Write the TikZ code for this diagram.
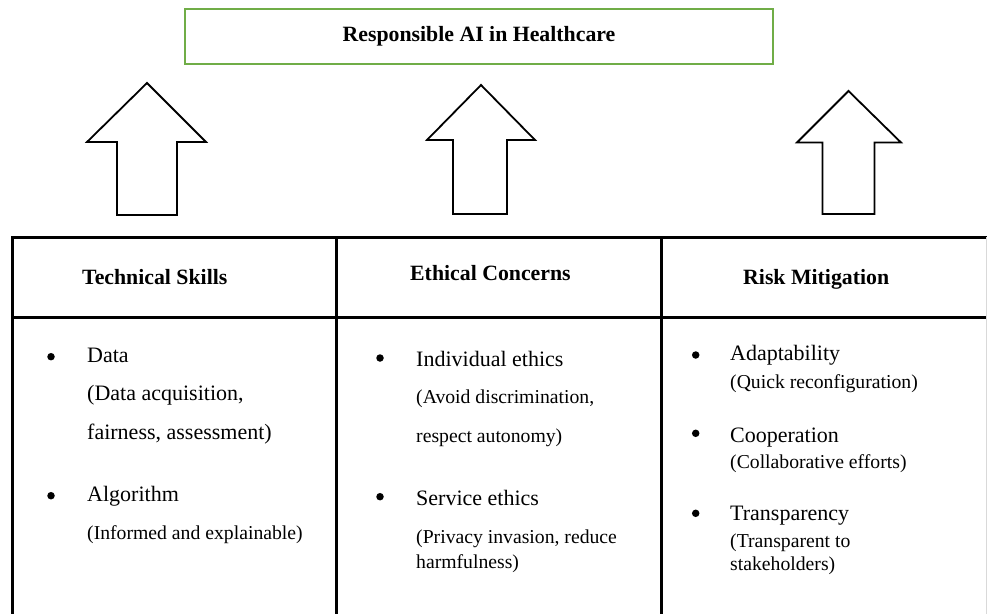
\documentclass[tikz,border=0pt]{standalone}
\usepackage{fontspec}
\setmainfont{Liberation Serif}
\definecolor{titlegreen}{RGB}{112,173,71}

\begin{document}
\begin{tikzpicture}[x=1pt, y=-1pt,
		head/.style = {font=\fontsize{21.8}{26}\selectfont\bfseries, anchor=base west, inner sep=0},
		item/.style = {font=\fontsize{22}{26}\selectfont, anchor=base west, inner sep=0},
		sub/.style = {font=\fontsize{19.7}{24}\selectfont, anchor=base west, inner sep=0},
		dot/.style = {circle, fill, inner sep=0, minimum size=7.5},
		grid/.style = {line width=2.6},
		blockarrow/.style = {line width=1.8, line join=miter}]
		\useasboundingbox (0,0) rectangle (987,613);

		% title
		\node[draw=titlegreen, line width=2, minimum width=588, minimum height=55, inner sep=0,
			font=\fontsize{21.8}{26}\selectfont\bfseries] (title) at (479,36.5) {Responsible AI in Healthcare};

		% arrows
		\draw[blockarrow] (117,215) -- (117,142) -- (87,142) -- (147,83) -- (206,142) -- (177,142) -- (177,215) -- cycle;
		\draw[blockarrow] (453,214) -- (453,140) -- (427,140) -- (481,85) -- (535,140) -- (507,140) -- (507,214) -- cycle;
		\draw[blockarrow] (822.5,214) -- (822.5,142.5) -- (797,142.5) -- (848.5,91) -- (901,142.5) -- (874.5,142.5) -- (874.5,214) -- cycle;

		% table
		\draw[grid] (12.3,616) -- (12.3,237.3) -- (987,237.3);
		\draw[grid] (12.3,317.7) -- (987,317.7);
		\draw[grid] (336.7,237.3) -- (336.7,616);
		\draw[grid] (661.7,237.3) -- (661.7,616);
		\draw[black!15, line width=1.2] (986.4,237.3) -- (986.4,616);

		% headers
		\node[head] (tech) at (82,284) {Technical Skills};
		\node[head] (eth) at (410,280) {Ethical Concerns};
		\node[head] (risk) at (743,284) {Risk Mitigation};

		% technical skills
		\node[dot] (t1) at (51,356.7) {};
		\node[item] (data) at (87,362.5) {Data};
		\node[item] (data2) at (87,400.8) {(Data acquisition,};
		\node[item] (data3) at (87,439.2) {fairness, assessment)};
		\node[dot] (t2) at (51,495.7) {};
		\node[item] (algo) at (87,501.8) {Algorithm};
		\node[sub] (algo2) at (87,539.2) {(Informed and explainable)};

		% ethical concerns
		\node[dot] (e1) at (380,358) {};
		\node[item] (indiv) at (416,366.5) {Individual ethics};
		\node[sub] (indiv2) at (416,403.7) {(Avoid discrimination,};
		\node[sub] (indiv3) at (416,442) {respect autonomy)};
		\node[dot] (e2) at (380,496.7) {};
		\node[item] (serv) at (416,505) {Service ethics};
		\node[sub] (serv2) at (416,543.5) {(Privacy invasion, reduce};
		\node[sub] (serv3) at (416,568.5) {harmfulness)};

		% risk mitigation
		\node[dot] (r1) at (695.7,355) {};
		\node[item] (adapt) at (730,360.8) {Adaptability};
		\node[sub] (adapt2) at (730,388.7) {(Quick reconfiguration)};
		\node[dot] (r2) at (695.7,433.3) {};
		\node[item] (coop) at (730,442) {Cooperation};
		\node[sub] (coop2) at (730,468.7) {(Collaborative efforts)};
		\node[dot] (r3) at (695.7,513.3) {};
		\node[item] (trans) at (730,520.3) {Transparency};
		\node[sub] (trans2) at (730,547) {(Transparent to};
		\node[sub] (trans3) at (730,570.3) {stakeholders)};
	\end{tikzpicture}
\end{document}
